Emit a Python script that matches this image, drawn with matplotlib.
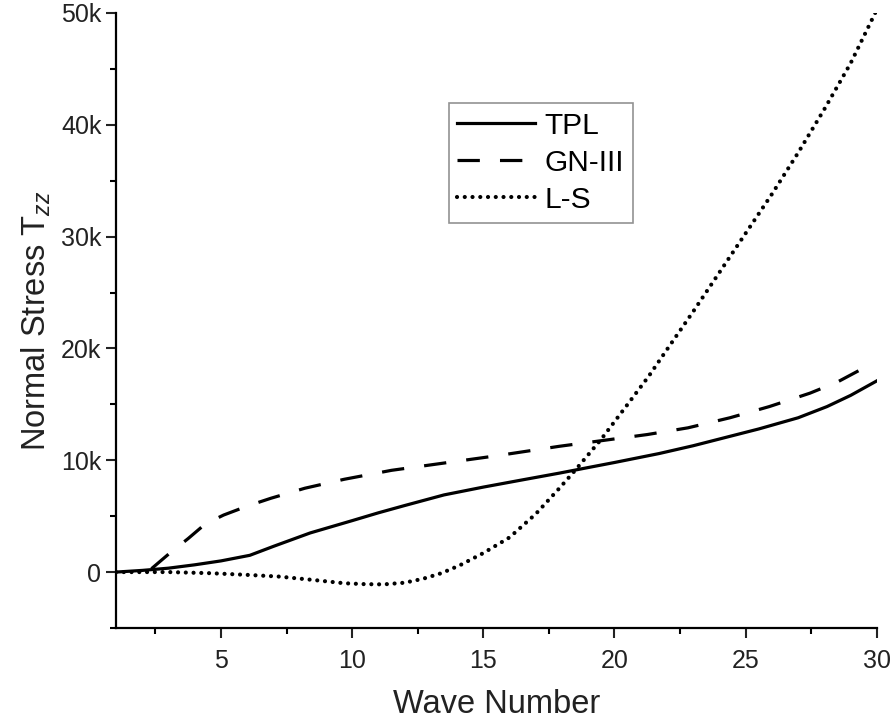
import matplotlib.pyplot as plt
from matplotlib.ticker import MultipleLocator, FuncFormatter

plt.rcParams['font.family'] = ['Liberation Sans', 'DejaVu Sans']
plt.rcParams['mathtext.fontset'] = 'custom'
plt.rcParams['mathtext.rm'] = 'Liberation Sans'
plt.rcParams['mathtext.it'] = 'Liberation Sans:italic'

# values
tpl_x = [1, 2, 3, 4, 5, 6.1, 7, 8.4, 10, 11, 12, 13.5, 15, 16.5, 17.9, 19, 20, 21.7, 23, 24.5, 25.5, 27, 28.1, 29, 30]
tpl_y = [0, 150, 350, 650, 1000, 1500, 2300, 3500, 4600, 5300, 5950, 6900, 7600, 8250, 8850, 9350, 9800, 10600, 11300, 12200, 12800, 13800, 14800, 15800, 17100]

gn_x = [2.35, 3.0, 3.75, 4.4, 5.1, 6.0, 6.9, 8.2, 9.7, 11.5, 13.5, 15.5, 17.9, 19.5, 21.25, 22.8, 24.4, 25.9, 27.45, 28.5, 29.3]
gn_y = [300, 1600, 3000, 4300, 5100, 5900, 6600, 7500, 8300, 9100, 9750, 10400, 11250, 11750, 12300, 12900, 13800, 14800, 16000, 17000, 18000]

ls_x = [1, 3, 4.6, 6, 7.2, 8.5, 9.7, 10.5, 11.2, 12, 12.7, 13.4, 14.1, 15, 16, 17, 17.9, 18.5, 19.5, 20.5, 21.3, 22, 23, 24, 25, 26, 27, 28, 29, 30]
ls_y = [0, 0, -100, -250, -400, -700, -1000, -1080, -1100, -950, -600, -100, 600, 1700, 3100, 5200, 7500, 9100, 11900, 15000, 17500, 19900, 23300, 26800, 30300, 33800, 37500, 41400, 45500, 50300]

fig = plt.figure(figsize=(8.94, 7.21), dpi=100)
ax = fig.add_axes([0.1298, 0.129, 0.851, 0.853])

lw = 2.3
ax.plot(tpl_x, tpl_y, color='black', lw=lw, label='TPL')
ax.plot(gn_x, gn_y, color='black', lw=lw, linestyle=(0, (7, 6.3)), label='GN-III')
ax.plot(ls_x, ls_y, color='black', lw=3.0, linestyle=(0, (0.01, 1.85)),
        dash_capstyle='round', label='L-S')

ax.set_xlim(1, 30)
ax.set_ylim(-5000, 50000)

ax.spines['top'].set_visible(False)
ax.spines['right'].set_visible(False)
for s in ['left', 'bottom']:
    ax.spines[s].set_linewidth(1.6)

ax.xaxis.set_major_locator(MultipleLocator(5))
ax.xaxis.set_minor_locator(MultipleLocator(2.5))
ax.yaxis.set_major_locator(MultipleLocator(10000))
ax.yaxis.set_minor_locator(MultipleLocator(5000))
ax.yaxis.set_major_formatter(FuncFormatter(lambda v, p: '0' if v == 0 else '%dk' % (v / 1000)))
ax.tick_params(which='major', direction='out', length=7, width=1.5, labelsize=18, colors='#222222')
ax.tick_params(which='minor', direction='out', length=4, width=1.5)
ax.tick_params(axis='x', pad=8)

ax.set_xlabel('Wave Number', fontsize=23.5, color='#222222', labelpad=12)
ax.set_ylabel('Normal Stress T$_{zz}$', fontsize=23.5, color='#222222', labelpad=6)

leg = ax.legend(loc='upper left', bbox_to_anchor=(0.437, 0.854), fontsize=21.5,
                handlelength=2.6, handletextpad=0.3, fancybox=False, frameon=True,
                borderpad=0.3, labelspacing=0.3, borderaxespad=0)
leg.get_frame().set_edgecolor('#777777')
leg.get_frame().set_linewidth(1.2)

fig.savefig('out.png', dpi=100)
